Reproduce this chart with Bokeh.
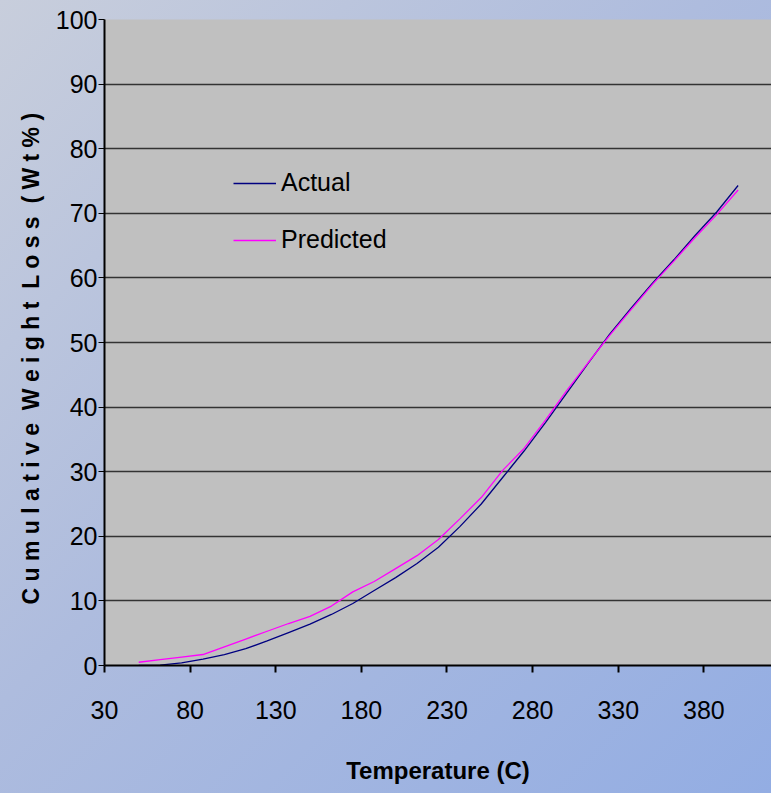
from bokeh.plotting import figure
from bokeh.models import Range1d, FixedTicker, Legend, LegendItem
from bokeh.embed import file_html
from bokeh.resources import INLINE

temperature = [50, 62.5, 75, 87.5, 100, 112.5, 125, 137.5, 150, 162.5, 175, 187.5,
               200, 212.5, 225, 237.5, 250, 262.5, 275, 287.5, 300, 312.5, 325,
               337.5, 350, 362.5, 375, 387.5, 400]
actual = [0.0, 0.05, 0.4, 1.0, 1.7, 2.6, 3.8, 5.1, 6.4, 7.9, 9.6, 11.6,
          13.6, 15.8, 18.3, 21.5, 25.0, 29.1, 33.2, 37.6, 42.2, 46.8, 51.3,
          55.3, 59.2, 62.8, 66.6, 70.2, 74.3]
predicted = [0.5, 0.9, 1.3, 1.7, 2.9, 4.1, 5.3, 6.5, 7.6, 9.2, 11.4, 13.0,
             15.0, 17.0, 19.5, 22.7, 26.0, 30.2, 33.6, 38.0, 42.6, 46.9, 51.1,
             55.1, 59.0, 62.6, 66.3, 69.8, 73.6]
x_ticks = [30, 80, 130, 180, 230, 280, 330, 380]
y_ticks = [0, 10, 20, 30, 40, 50, 60, 70, 80, 90, 100]

FONT = "Liberation Sans"

p = figure(width=771, height=793, output_backend="svg", toolbar_location=None,
           x_range=Range1d(30, 419.5), y_range=Range1d(0, 100),
           min_border_left=104, min_border_right=0, min_border_top=19,
           min_border_bottom=128)
p.background_fill_color = "#C0C0C0"
p.border_fill_alpha = 0
p.outline_line_color = None

r1 = p.line(temperature, actual, line_color="#000080", line_width=1.3)
r2 = p.line(temperature, predicted, line_color="#FF00FF", line_width=1.3)

p.xgrid.grid_line_color = None
p.ygrid.grid_line_color = "#333333"
p.ygrid.grid_line_width = 1.5
p.ygrid.ticker = FixedTicker(ticks=y_ticks)

xa = p.xaxis[0]
xa.ticker = FixedTicker(ticks=x_ticks)
xa.axis_line_color = "black"
xa.axis_line_width = 2
xa.major_tick_line_color = "black"
xa.major_tick_line_width = 2
xa.major_tick_out = 7
xa.major_tick_in = 0
xa.minor_tick_line_color = None
xa.major_label_text_font = FONT
xa.major_label_text_font_size = "25px"
xa.major_label_text_color = "black"
xa.major_label_standoff = 28
xa.axis_label = "Temperature (C)"
xa.axis_label_text_font = FONT
xa.axis_label_text_font_style = "bold"
xa.axis_label_text_font_size = "24px"
xa.axis_label_text_color = "black"
xa.axis_label_standoff = 35

ya = p.yaxis[0]
ya.ticker = FixedTicker(ticks=y_ticks)
ya.axis_line_color = "black"
ya.axis_line_width = 2
ya.major_tick_line_color = "black"
ya.major_tick_line_width = 1
ya.major_tick_out = 6
ya.major_tick_in = 0
ya.minor_tick_line_color = None
ya.major_label_text_font = FONT
ya.major_label_text_font_size = "25px"
ya.major_label_text_color = "black"
ya.major_label_standoff = 1
words = ["Cumulative", "Weight", "Loss", "(Wt%)"]
ylabel = " \u00a0".join(" ".join(w) for w in words) + "\u00a0" * 5
ya.axis_label = ylabel
ya.axis_label_text_font = FONT
ya.axis_label_text_font_style = "bold"
ya.axis_label_text_font_size = "23px"
ya.axis_label_text_color = "black"
ya.axis_label_standoff = 9

legend = Legend(items=[LegendItem(label="Actual", renderers=[r1]),
                       LegendItem(label="Predicted", renderers=[r2])],
                location=(129, 411), border_line_alpha=0, background_fill_alpha=0,
                glyph_width=43, glyph_height=28, label_height=28, spacing=28,
                padding=0, margin=0, label_standoff=5,
                label_text_font=FONT, label_text_font_size="25px",
                label_text_color="black")
p.add_layout(legend)

html = file_html(p, INLINE)
html = html.replace("</head>",
    "<style>html{min-height:100%;background:linear-gradient(135deg,#C8CEDC 0%,#AEBCDE 45%,#93ADE3 100%) fixed;}"
    "body{background:transparent;}</style></head>", 1)
open("out.html", "w").write(html)
